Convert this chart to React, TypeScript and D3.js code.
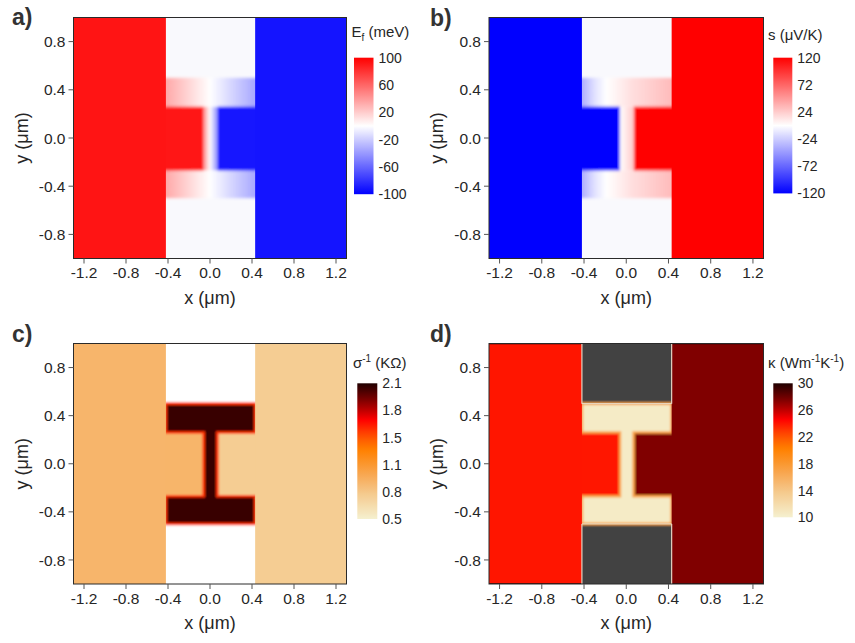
import React from "react";
import * as d3 from "d3";

// Shared axes (μm)
const X_DOMAIN = [-1.3, 1.3];
const Y_DOMAIN = [-1, 1];
const X_TICKS = [-1.2, -0.8, -0.4, 0, 0.4, 0.8, 1.2];
const Y_TICKS = [-0.8, -0.4, 0, 0.4, 0.8];

// Device outline (μm)
const LEAD_EDGE_X = [-0.42, 0.43];
const GAP_Y = [-0.5, 0.5];
const FLANGE_INNER_Y = [-0.27, 0.26];
const WEB_X = [-0.06, 0.07];

// a) Fermi level, meV
const EF_LEADS = [92, -92];
const EF_FLANGE = [[-0.42, 34], [-0.2, 16], [0, 0], [0.2, -16], [0.43, -34]];
const EF_WEB = [[-0.06, 45], [0, 0], [0.07, -45]];
const EF_RANGE = [-100, 100];
const EF_TICKS = [100, 60, 20, -20, -60, -100];

// b) Seebeck coefficient, μV/K
const S_LEADS = [-120, 120];
const S_FLANGE = [[-0.42, -38], [-0.3, -14], [-0.19, 0], [-0.1, 5], [0.05, 15], [0.43, 32]];
const S_WEB = [[-0.06, 0], [0.07, 25]];
const S_RANGE = [-120, 120];
const S_TICKS = [120, 72, 24, -24, -72, -120];

// c) resistance, kΩ
const R_LEADS = [0.93, 0.77];
const R_DEVICE = 2.05;
const R_EDGE = 1.55;
const R_RANGE = [0.5, 2.1];
const R_TICKS = [2.1, 1.78, 1.46, 1.14, 0.82, 0.5];

// d) thermal conductivity, W m^-1 K^-1
const K_LEADS = [24, 27.5];
const K_DEVICE = 10.5;
const K_EDGE = 17;
const K_RANGE = [10, 30];
const K_TICKS = [30, 26, 22, 18, 14, 10];

// Cream -> orange -> red -> black colour map
const HEAT_POS = [0, 0.19, 0.29, 0.39, 0.51, 0.59, 0.66, 0.73, 0.79, 0.875, 1];
const HEAT_COLORS = [
  "#f5f0cf", "#f5c98c", "#f7b062", "#fa9a35", "#ff8000", "#ff5a00",
  "#ff3000", "#ff0000", "#c80000", "#800000", "#200000",
];

const FONT = "'Liberation Sans', Arial, Helvetica, sans-serif";
const INK = "#262626";

const locale = d3.formatLocale({
  decimal: ".",
  thousands: ",",
  grouping: [3],
  currency: ["", ""],
  minus: "-",
});
const fmt1 = locale.format(".1f");
const fmtInt = locale.format("d");

const heatScale = (range: number[]) =>
  d3
    .scaleLinear<string>()
    .domain(HEAT_POS.map((t) => range[0] + t * (range[1] - range[0])))
    .range(HEAT_COLORS)
    .interpolate(d3.interpolateRgb)
    .clamp(true);

const divergingScale = (range: number[]) =>
  d3
    .scaleLinear<string>()
    .domain([range[0], 0, range[1]])
    .range(["#0000ff", "#ffffff", "#ff0000"])
    .interpolate(d3.interpolateRgb)
    .clamp(true);

type Box = { x: number; y: number; w: number; h: number };

function rectOf(x: any, y: any, x0: number, x1: number, y0: number, y1: number) {
  return { x: x(x0), y: y(y1), width: x(x1) - x(x0), height: y(y0) - y(y1) };
}

function HGradient({ id, x, color, stops }: any) {
  const x0 = stops[0][0];
  const x1 = stops[stops.length - 1][0];
  return (
    <linearGradient id={id} gradientUnits="userSpaceOnUse" x1={x(x0)} x2={x(x1)} y1={0} y2={0}>
      {stops.map(([sx, v]: number[], i: number) => (
        <stop key={i} offset={(sx - x0) / (x1 - x0)} stopColor={color(v)} />
      ))}
    </linearGradient>
  );
}

// Blue-white-red map with graded flanges and web
function DivergingField({ id, x, y, color, leads, flange, web, nullFill, blur, box }: any) {
  const e = 0.1;
  return (
    <g>
      <defs>
        <filter id={`soft-${id}`} filterUnits="userSpaceOnUse" x={box.x - 20} y={box.y - 20} width={box.w + 40} height={box.h + 40}>
          <feGaussianBlur stdDeviation={blur} />
        </filter>
        <HGradient id={`flange-${id}`} x={x} color={color} stops={flange} />
        <HGradient id={`web-${id}`} x={x} color={color} stops={web} />
      </defs>
      <g filter={`url(#soft-${id})`}>
        <rect {...rectOf(x, y, LEAD_EDGE_X[0] - e, LEAD_EDGE_X[1] + e, GAP_Y[1], 1.1)} fill={nullFill} />
        <rect {...rectOf(x, y, LEAD_EDGE_X[0] - e, LEAD_EDGE_X[1] + e, -1.1, GAP_Y[0])} fill={nullFill} />
        <rect {...rectOf(x, y, -1.4, WEB_X[0], FLANGE_INNER_Y[0] - 0.02, FLANGE_INNER_Y[1] + 0.02)} fill={color(leads[0])} />
        <rect {...rectOf(x, y, WEB_X[1], 1.4, FLANGE_INNER_Y[0] - 0.02, FLANGE_INNER_Y[1] + 0.02)} fill={color(leads[1])} />
        <rect {...rectOf(x, y, WEB_X[0], WEB_X[1], FLANGE_INNER_Y[0], FLANGE_INNER_Y[1])} fill={`url(#web-${id})`} />
        <rect {...rectOf(x, y, LEAD_EDGE_X[0] - e, LEAD_EDGE_X[1] + e, FLANGE_INNER_Y[1], GAP_Y[1])} fill={`url(#flange-${id})`} />
        <rect {...rectOf(x, y, LEAD_EDGE_X[0] - e, LEAD_EDGE_X[1] + e, GAP_Y[0], FLANGE_INNER_Y[0])} fill={`url(#flange-${id})`} />
      </g>
      <rect {...rectOf(x, y, -1.4, LEAD_EDGE_X[0], -1.1, 1.1)} fill={color(leads[0])} />
      <rect {...rectOf(x, y, LEAD_EDGE_X[1], 1.4, -1.1, 1.1)} fill={color(leads[1])} />
    </g>
  );
}

// I-shaped channel drawn on a sequential map
function HeatField({ id, x, y, color, leads, device, edge, nullFill, blur, box, accents }: any) {
  const e = 0.1;
  const [l, r] = LEAD_EDGE_X;
  const [gb, gt] = GAP_Y;
  const [fb, ft] = FLANGE_INNER_Y;
  const [wl, wr] = WEB_X;
  const outline: [number, number][] = [
    [l, gt], [r, gt], [r, ft], [wr, ft], [wr, fb], [r, fb], [r, gb],
    [l, gb], [l, fb], [wl, fb], [wl, ft], [l, ft],
  ];
  const path = d3.line<[number, number]>().x((d) => x(d[0])).y((d) => y(d[1]))(outline) + "Z";
  return (
    <g>
      <defs>
        <filter id={`soft-${id}`} filterUnits="userSpaceOnUse" x={box.x - 20} y={box.y - 20} width={box.w + 40} height={box.h + 40}>
          <feGaussianBlur stdDeviation={blur} />
        </filter>
      </defs>
      <g filter={`url(#soft-${id})`}>
        <rect {...rectOf(x, y, l - e, r + e, gt, 1.1)} fill={nullFill} />
        <rect {...rectOf(x, y, l - e, r + e, -1.1, gb)} fill={nullFill} />
        <rect {...rectOf(x, y, -1.4, 0, fb - 0.03, ft + 0.03)} fill={color(leads[0])} />
        <rect {...rectOf(x, y, 0, 1.4, fb - 0.03, ft + 0.03)} fill={color(leads[1])} />
        <path d={path} fill={color(device)} stroke={color(edge)} strokeWidth={2.6} />
      </g>
      <rect {...rectOf(x, y, -1.4, l, -1.1, 1.1)} fill={color(leads[0])} />
      <rect {...rectOf(x, y, r, 1.4, -1.1, 1.1)} fill={color(leads[1])} />
      {accents && (
        <g>
          {[Y_DOMAIN[0], Y_DOMAIN[1]].map((yy) => (
            <g key={yy}>
              <line x1={x(X_DOMAIN[0])} x2={x(l)} y1={y(yy)} y2={y(yy)} stroke={color(K_RANGE[1])} strokeWidth={1.6} />
              <line x1={x(r)} x2={x(X_DOMAIN[1])} y1={y(yy)} y2={y(yy)} stroke={color(K_RANGE[1])} strokeWidth={1.6} />
            </g>
          ))}
          {[l, r].map((xx) => (
            <g key={xx}>
              <line x1={x(xx)} x2={x(xx)} y1={y(1)} y2={y(gt)} stroke="#e4d2c2" strokeWidth={1.2} />
              <line x1={x(xx)} x2={x(xx)} y1={y(gb)} y2={y(-1)} stroke="#e4d2c2" strokeWidth={1.2} />
            </g>
          ))}
          <line x1={x(l)} x2={x(r)} y1={y(gt)} y2={y(gt)} stroke="#e8dccb" strokeWidth={1} />
          <line x1={x(l)} x2={x(r)} y1={y(gb)} y2={y(gb)} stroke="#e8dccb" strokeWidth={1} />
        </g>
      )}
    </g>
  );
}

function Panel({ id, label, labelPos, box, bar, title, titlePos, color, range, ticks, tickFmt, field }: any) {
  const x = d3.scaleLinear().domain(X_DOMAIN).range([box.x, box.x + box.w]);
  const y = d3.scaleLinear().domain(Y_DOMAIN).range([box.y + box.h, box.y]);
  const cb = d3.scaleLinear().domain(range).range([bar.y + bar.h, bar.y]);
  const samples = d3.range(0, 1.0001, 1 / 48);
  return (
    <g fontFamily={FONT} fill={INK}>
      <defs>
        <clipPath id={`clip-${id}`}>
          <rect x={box.x} y={box.y} width={box.w} height={box.h} />
        </clipPath>
        <linearGradient id={`bar-${id}`} x1={0} y1={1} x2={0} y2={0}>
          {samples.map((t: number, i: number) => (
            <stop key={i} offset={t} stopColor={color(range[0] + t * (range[1] - range[0]))} />
          ))}
        </linearGradient>
      </defs>
      <g clipPath={`url(#clip-${id})`}>{field(x, y)}</g>
      <rect x={box.x} y={box.y} width={box.w} height={box.h} fill="none" stroke="#2a2a2a" strokeWidth={1} />

      {/* y axis */}
      {Y_TICKS.map((t) => (
        <g key={`y${t}`}>
          <line x1={box.x - 5} x2={box.x} y1={y(t)} y2={y(t)} stroke="#555" strokeWidth={1} />
          <text x={box.x - 8} y={y(t)} dy="0.36em" textAnchor="end" fontSize={15.5}>
            {fmt1(t)}
          </text>
        </g>
      ))}
      {/* x axis */}
      {X_TICKS.map((t) => (
        <g key={`x${t}`}>
          <line x1={x(t)} x2={x(t)} y1={box.y + box.h} y2={box.y + box.h + 5} stroke="#555" strokeWidth={1} />
          <text x={x(t)} y={box.y + box.h + 19.5} textAnchor="middle" fontSize={15.5}>
            {fmt1(t)}
          </text>
        </g>
      ))}
      <text x={box.x + box.w / 2} y={box.y + box.h + 45} textAnchor="middle" fontSize={18}>
        x (μm)
      </text>
      <text
        transform={`translate(${box.x - 46},${box.y + box.h / 2}) rotate(-90)`}
        textAnchor="middle"
        fontSize={18}
      >
        y (μm)
      </text>

      {/* colour bar */}
      <rect x={bar.x} y={bar.y} width={bar.w} height={bar.h} fill={`url(#bar-${id})`} />
      {ticks.map((t: number) => (
        <text key={`c${t}`} x={bar.x + bar.w + 5} y={cb(t)} dy="0.36em" fontSize={14}>
          {tickFmt(t)}
        </text>
      ))}
      <text x={titlePos[0]} y={titlePos[1]} fontSize={15}>
        {title}
      </text>

      <text x={labelPos[0]} y={labelPos[1]} fontSize={23} fontWeight="bold" fill="#333">
        {label}
      </text>
    </g>
  );
}

export default function App() {
  const boxA: Box = { x: 73.5, y: 17.5, w: 273, h: 241 };
  const boxB: Box = { x: 489, y: 17.5, w: 274.5, h: 241 };
  const boxC: Box = { x: 73.5, y: 343.5, w: 273, h: 240.5 };
  const boxD: Box = { x: 489, y: 343.5, w: 274.5, h: 240.5 };

  const colA = divergingScale(EF_RANGE);
  const colB = divergingScale(S_RANGE);
  const colC = heatScale(R_RANGE);
  const colD = heatScale(K_RANGE);

  return (
    <svg
      width={855}
      height={643}
      viewBox="0 0 855 643"
      style={{ position: "absolute", left: 0, top: 0, background: "#fff" }}
    >
      <rect width={855} height={643} fill="#fff" />
      <Panel
        id="a"
        label="a)"
        labelPos={[12, 25]}
        box={boxA}
        bar={{ x: 354, y: 57.7, w: 19.5, h: 136.5 }}
        title={
          <>
            E<tspan dy={4} fontSize={10}>f</tspan>
            <tspan dy={-4}> (meV)</tspan>
          </>
        }
        titlePos={[351.5, 37]}
        color={colA}
        range={EF_RANGE}
        ticks={EF_TICKS}
        tickFmt={fmtInt}
        field={(x: any, y: any) => (
          <DivergingField id="a" x={x} y={y} color={colA} leads={EF_LEADS} flange={EF_FLANGE} web={EF_WEB} nullFill="#f9f9fd" blur={1.6} box={boxA} />
        )}
      />
      <Panel
        id="b"
        label="b)"
        labelPos={[430, 26]}
        box={boxB}
        bar={{ x: 773.3, y: 57.7, w: 19, h: 135.7 }}
        title={<>s (μV/K)</>}
        titlePos={[768, 40]}
        color={colB}
        range={S_RANGE}
        ticks={S_TICKS}
        tickFmt={fmtInt}
        field={(x: any, y: any) => (
          <DivergingField id="b" x={x} y={y} color={colB} leads={S_LEADS} flange={S_FLANGE} web={S_WEB} nullFill="#f9f9fd" blur={1.6} box={boxB} />
        )}
      />
      <Panel
        id="c"
        label="c)"
        labelPos={[12, 341.5]}
        box={boxC}
        bar={{ x: 357.3, y: 383.3, w: 20, h: 135.7 }}
        title={
          <>
            σ<tspan dy={-6} fontSize={10}>-1</tspan>
            <tspan dy={6}> (KΩ)</tspan>
          </>
        }
        titlePos={[353, 368]}
        color={colC}
        range={R_RANGE}
        ticks={R_TICKS}
        tickFmt={fmt1}
        field={(x: any, y: any) => (
          <HeatField id="c" x={x} y={y} color={colC} leads={R_LEADS} device={R_DEVICE} edge={R_EDGE} nullFill="#ffffff" blur={0.8} box={boxC} />
        )}
      />
      <Panel
        id="d"
        label="d)"
        labelPos={[430, 341.5]}
        box={boxD}
        bar={{ x: 773.3, y: 383.3, w: 19.4, h: 134 }}
        title={
          <>
            κ (Wm<tspan dy={-6} fontSize={10}>-1</tspan>
            <tspan dy={6}>K</tspan>
            <tspan dy={-6} fontSize={10}>-1</tspan>
            <tspan dy={6}>)</tspan>
          </>
        }
        titlePos={[768, 368]}
        color={colD}
        range={K_RANGE}
        ticks={K_TICKS}
        tickFmt={fmtInt}
        field={(x: any, y: any) => (
          <HeatField id="d" x={x} y={y} color={colD} leads={K_LEADS} device={K_DEVICE} edge={K_EDGE} nullFill="#424242" blur={0.8} box={boxD} accents />
        )}
      />
    </svg>
  );
}
